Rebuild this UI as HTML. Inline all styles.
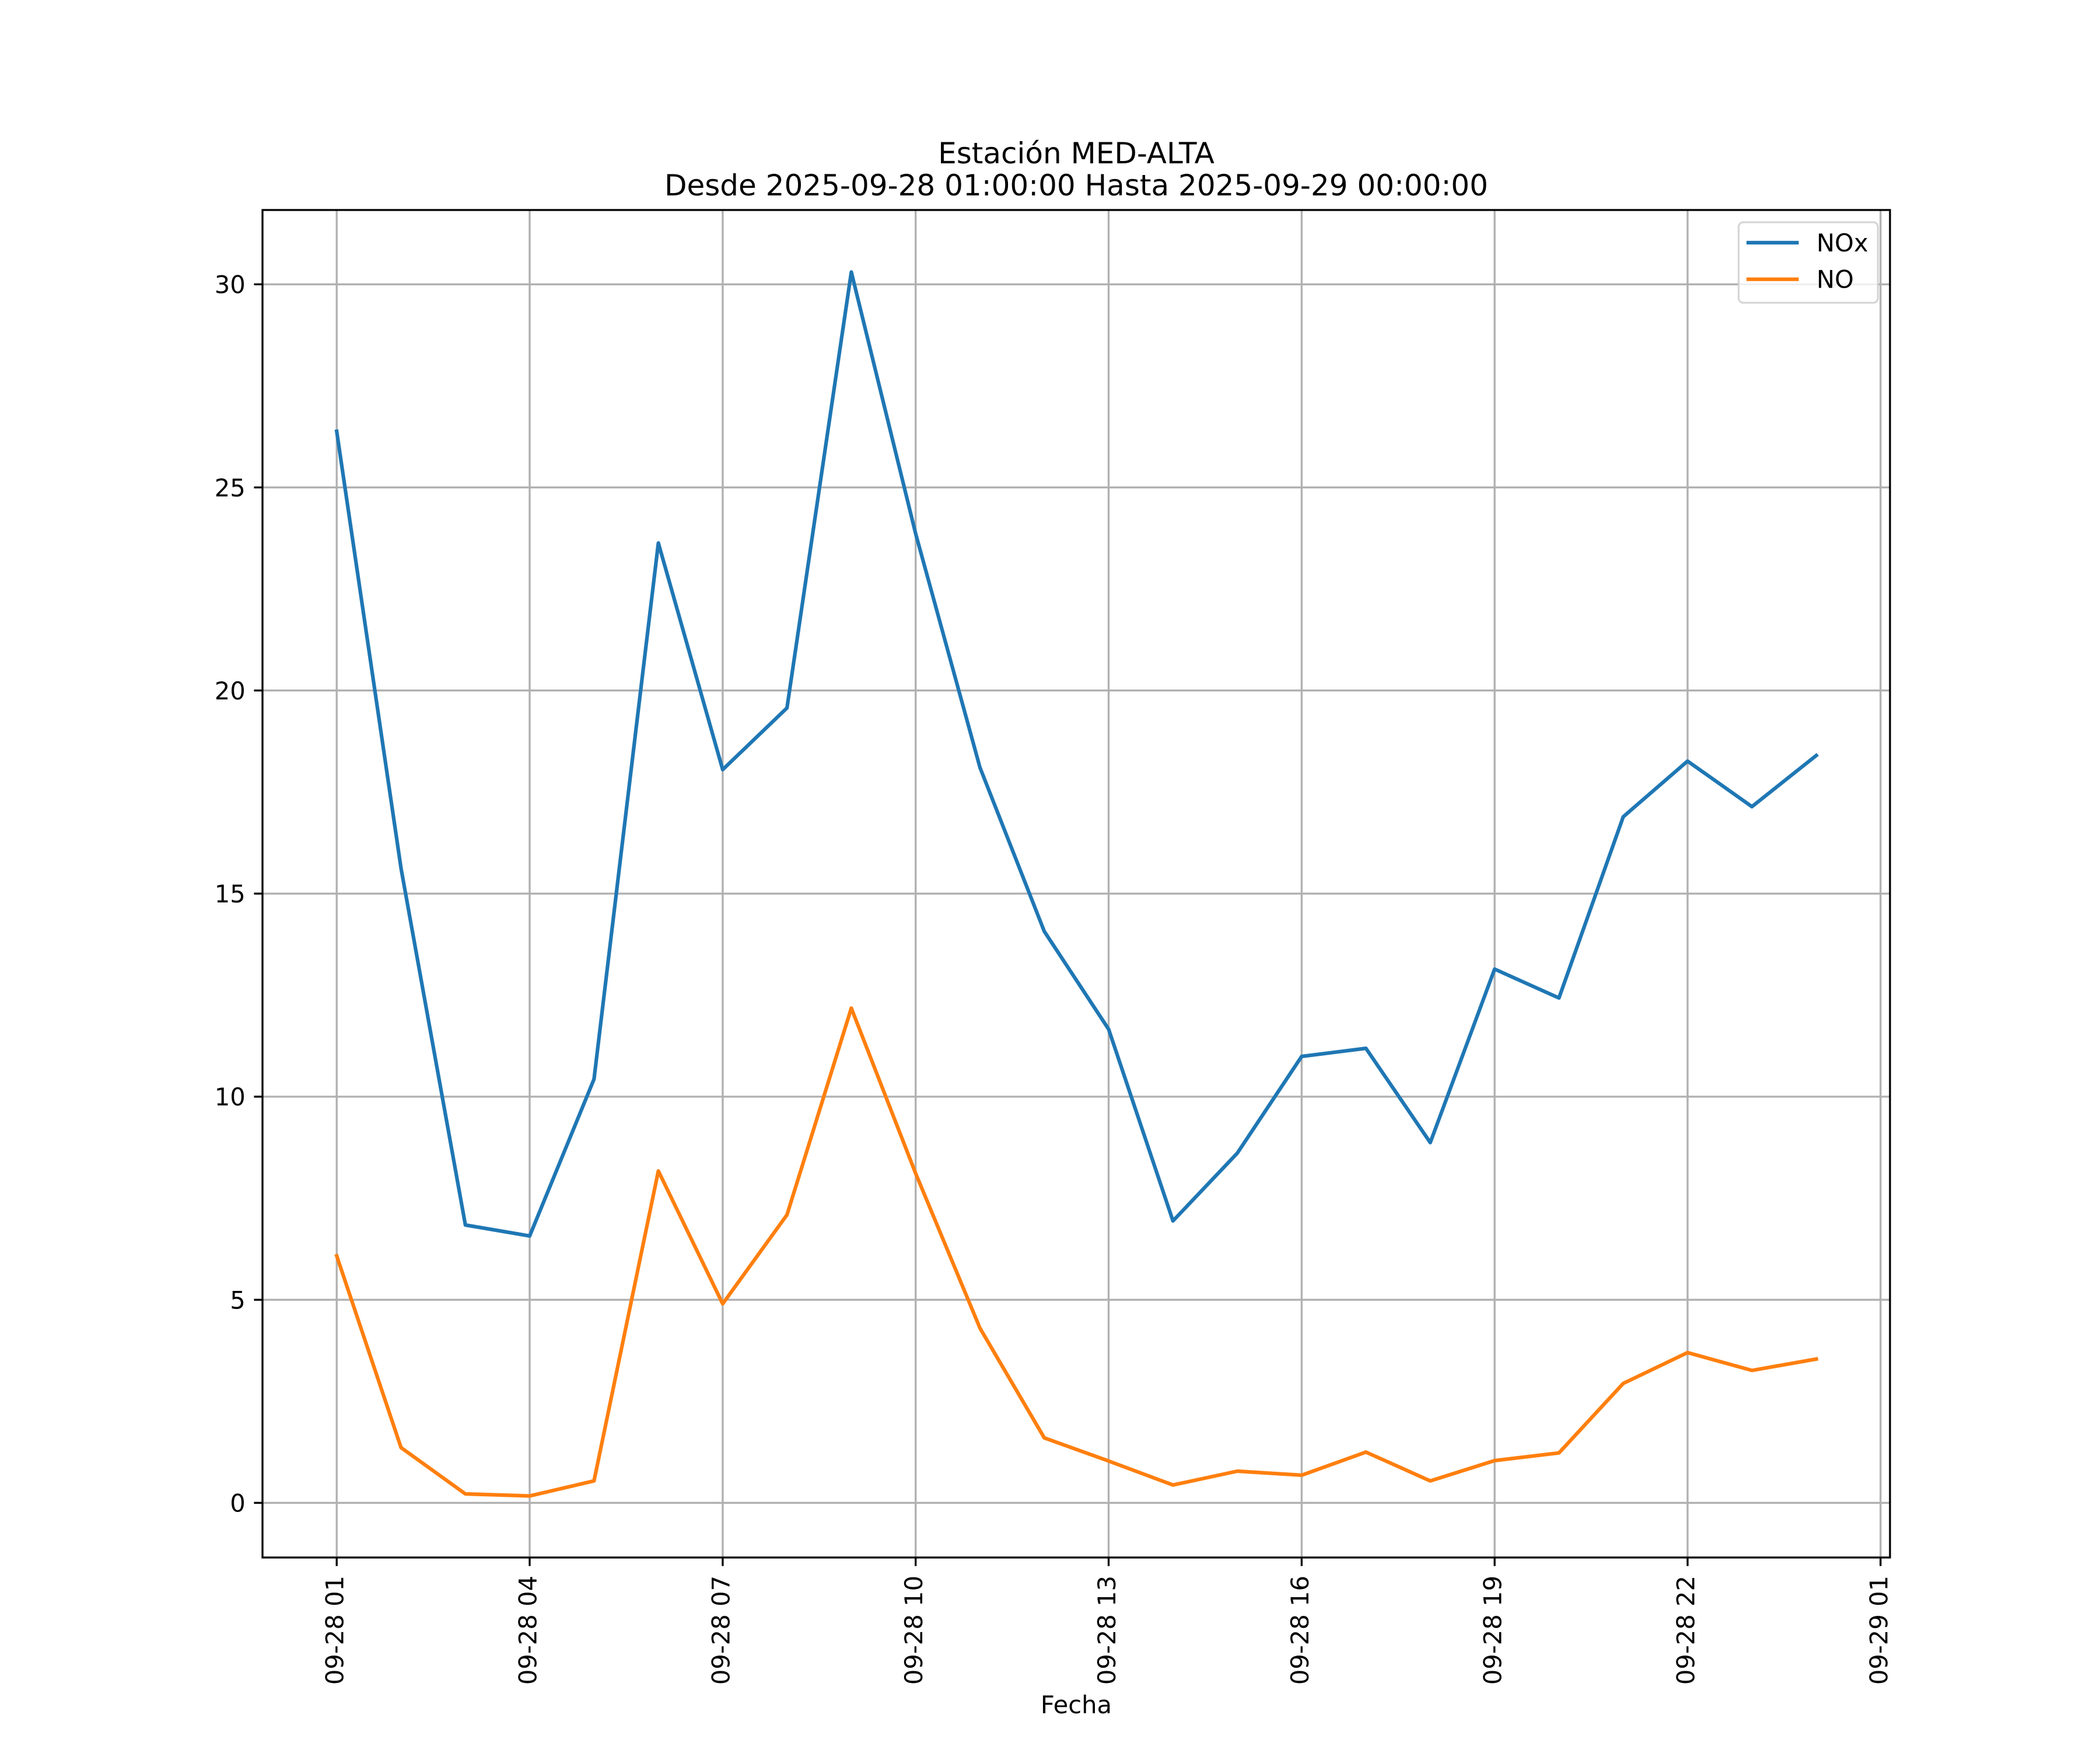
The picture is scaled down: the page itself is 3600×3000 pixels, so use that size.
<!DOCTYPE html>
<html>
<head>
<meta charset="utf-8">
<style>
html,body{margin:0;padding:0;background:#ffffff;}
svg{display:block;}
text{font-family:"DejaVu Sans","Liberation Sans",sans-serif;fill:#000000;}
</style>
</head>
<body>
<svg xmlns="http://www.w3.org/2000/svg" width="3600" height="3000" viewBox="0 0 3600 3000">
<rect x="0" y="0" width="3600" height="3000" fill="#ffffff"/>

<!-- grid lines -->
<g stroke="#b0b0b0" stroke-width="3.33" fill="none">
  <line x1="577.2" y1="360" x2="577.2" y2="2670"/>
  <line x1="908.0" y1="360" x2="908.0" y2="2670"/>
  <line x1="1238.9" y1="360" x2="1238.9" y2="2670"/>
  <line x1="1569.7" y1="360" x2="1569.7" y2="2670"/>
  <line x1="1900.5" y1="360" x2="1900.5" y2="2670"/>
  <line x1="2231.4" y1="360" x2="2231.4" y2="2670"/>
  <line x1="2562.2" y1="360" x2="2562.2" y2="2670"/>
  <line x1="2893.0" y1="360" x2="2893.0" y2="2670"/>
  <line x1="3223.8" y1="360" x2="3223.8" y2="2670"/>

  <line x1="450" y1="2576.3" x2="3240" y2="2576.3"/>
  <line x1="450" y1="2228.2" x2="3240" y2="2228.2"/>
  <line x1="450" y1="1880.0" x2="3240" y2="1880.0"/>
  <line x1="450" y1="1531.9" x2="3240" y2="1531.9"/>
  <line x1="450" y1="1183.7" x2="3240" y2="1183.7"/>
  <line x1="450" y1="835.6" x2="3240" y2="835.6"/>
  <line x1="450" y1="487.4" x2="3240" y2="487.4"/>
</g>

<!-- data lines -->
<polyline fill="none" stroke="#1f77b4" stroke-width="6.25" stroke-linejoin="round" stroke-linecap="square"
  points="577.2,739.4 687.5,1488.6 797.8,2100.0 908.0,2118.8 1018.3,1850.0 1128.6,930.9 1238.9,1319.4 1349.1,1213.6 1459.4,466.4 1569.7,914.9 1680.0,1315.9 1790.2,1596.6 1900.5,1764.4 2010.8,2093.0 2121.1,1976.8 2231.4,1811.0 2341.6,1797.1 2451.9,1958.7 2562.2,1661.3 2672.5,1710.8 2782.7,1400.2 2893.0,1304.8 3003.3,1382.8 3113.6,1295.1"/>
<polyline fill="none" stroke="#ff7f0e" stroke-width="6.25" stroke-linejoin="round" stroke-linecap="square"
  points="577.2,2152.9 687.5,2481.6 797.8,2561.0 908.0,2564.5 1018.3,2538.7 1128.6,2007.4 1238.9,2235.1 1349.1,2082.6 1459.4,1728.2 1569.7,2011.6 1680.0,2276.9 1790.2,2464.9 1900.5,2504.6 2010.8,2545.7 2121.1,2522.0 2231.4,2528.9 2341.6,2489.3 2451.9,2538.7 2562.2,2503.9 2672.5,2490.7 2782.7,2371.6 2893.0,2318.7 3003.3,2349.3 3113.6,2329.8"/>

<!-- spines -->
<rect x="450" y="360" width="2790" height="2310" fill="none" stroke="#000000" stroke-width="3.33" stroke-linejoin="miter"/>

<!-- ticks -->
<g stroke="#000000" stroke-width="3.33">
  <line x1="577.2" y1="2670" x2="577.2" y2="2684.6"/>
  <line x1="908.0" y1="2670" x2="908.0" y2="2684.6"/>
  <line x1="1238.9" y1="2670" x2="1238.9" y2="2684.6"/>
  <line x1="1569.7" y1="2670" x2="1569.7" y2="2684.6"/>
  <line x1="1900.5" y1="2670" x2="1900.5" y2="2684.6"/>
  <line x1="2231.4" y1="2670" x2="2231.4" y2="2684.6"/>
  <line x1="2562.2" y1="2670" x2="2562.2" y2="2684.6"/>
  <line x1="2893.0" y1="2670" x2="2893.0" y2="2684.6"/>
  <line x1="3223.8" y1="2670" x2="3223.8" y2="2684.6"/>

  <line x1="435.4" y1="2576.3" x2="450" y2="2576.3"/>
  <line x1="435.4" y1="2228.2" x2="450" y2="2228.2"/>
  <line x1="435.4" y1="1880.0" x2="450" y2="1880.0"/>
  <line x1="435.4" y1="1531.9" x2="450" y2="1531.9"/>
  <line x1="435.4" y1="1183.7" x2="450" y2="1183.7"/>
  <line x1="435.4" y1="835.6" x2="450" y2="835.6"/>
  <line x1="435.4" y1="487.4" x2="450" y2="487.4"/>
</g>

<!-- y tick labels -->
<g font-size="41.67" text-anchor="end">
  <text x="420.8" y="2591.5">0</text>
  <text x="420.8" y="2243.4">5</text>
  <text x="420.8" y="1895.2">10</text>
  <text x="420.8" y="1547.1">15</text>
  <text x="420.8" y="1198.9">20</text>
  <text x="420.8" y="850.8">25</text>
  <text x="420.8" y="502.6">30</text>
</g>

<!-- x tick labels (rotated) -->
<g font-size="41.67" text-anchor="end">
  <text transform="translate(588.7,2701) rotate(-90)">09-28 01</text>
  <text transform="translate(919.5,2701) rotate(-90)">09-28 04</text>
  <text transform="translate(1250.4,2701) rotate(-90)">09-28 07</text>
  <text transform="translate(1581.2,2701) rotate(-90)">09-28 10</text>
  <text transform="translate(1912.0,2701) rotate(-90)">09-28 13</text>
  <text transform="translate(2242.9,2701) rotate(-90)">09-28 16</text>
  <text transform="translate(2573.7,2701) rotate(-90)">09-28 19</text>
  <text transform="translate(2904.5,2701) rotate(-90)">09-28 22</text>
  <text transform="translate(3235.3,2701) rotate(-90)">09-29 01</text>
</g>

<!-- x label -->
<text x="1845" y="2937" font-size="41.67" text-anchor="middle">Fecha</text>

<!-- title -->
<text x="1845" y="280" font-size="50" text-anchor="middle">Estación MED-ALTA</text>
<text x="1845" y="335" font-size="50" text-anchor="middle">Desde 2025-09-28 01:00:00 Hasta 2025-09-29 00:00:00</text>

<!-- legend -->
<rect x="2980.5" y="381" width="238.8" height="138" rx="8" ry="8" fill="#ffffff" fill-opacity="0.8" stroke="#cccccc" stroke-opacity="0.8" stroke-width="3.33"/>
<line x1="2997.1" y1="416" x2="3080.4" y2="416" stroke="#1f77b4" stroke-width="6.25" stroke-linecap="square"/>
<line x1="2997.1" y1="478.7" x2="3080.4" y2="478.7" stroke="#ff7f0e" stroke-width="6.25" stroke-linecap="square"/>
<text x="3114" y="431" font-size="41.67">NOx</text>
<text x="3114" y="493.7" font-size="41.67">NO</text>
</svg>
</body>
</html>
